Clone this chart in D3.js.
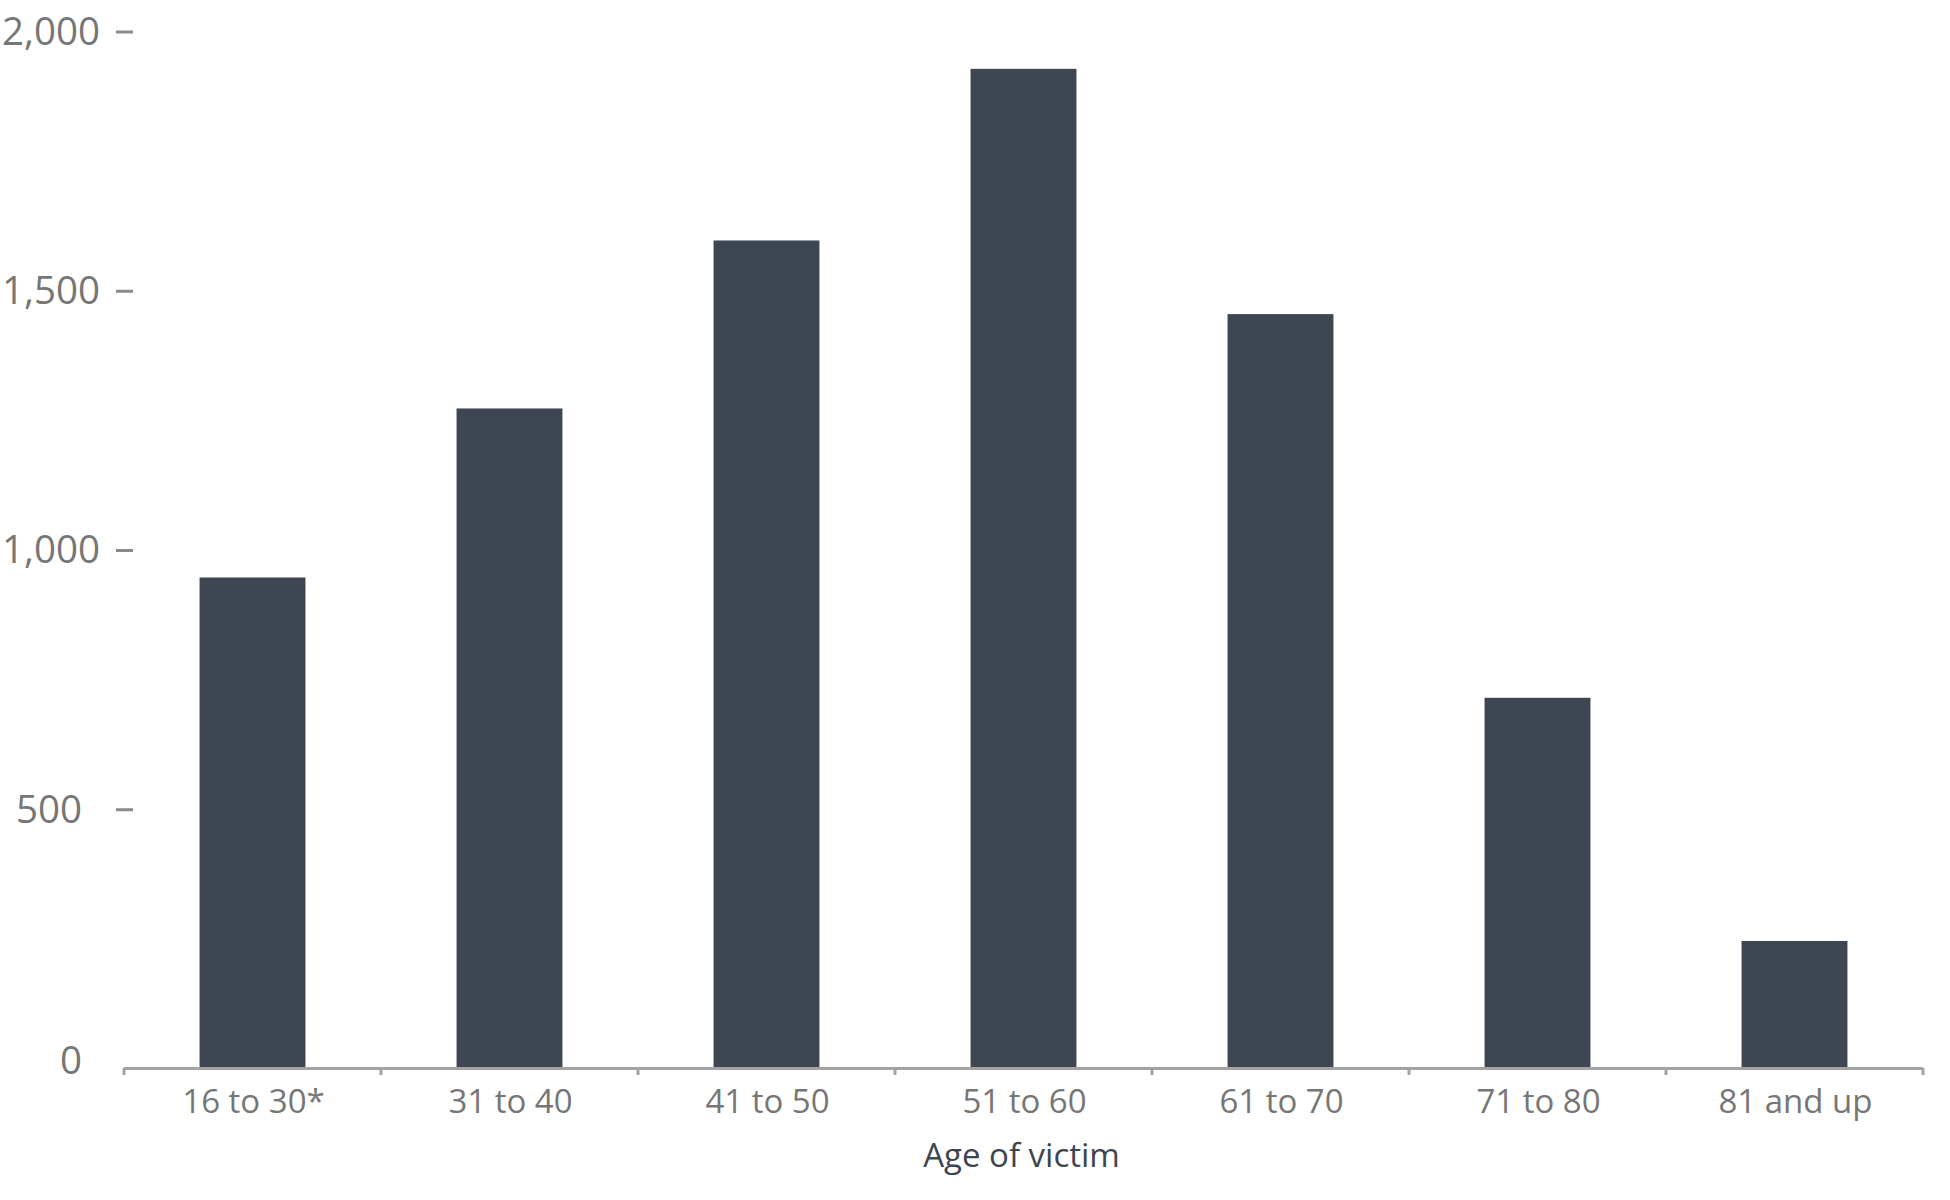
<!DOCTYPE html>
<html>
<head>
<meta charset="utf-8">
<script src="https://cdn.jsdelivr.net/npm/d3@7"></script>
<style>
  html, body { margin: 0; padding: 0; background: #ffffff; }
  svg { display: block; }
</style>
</head>
<body>
<svg id="chart" width="1950" height="1200"></svg>
<script>
const categories = ["16 to 30*", "31 to 40", "41 to 50", "51 to 60", "61 to 70", "71 to 80", "81 and up"];
const values = [946, 1272, 1596, 1927, 1454, 714, 245];
const yTicks = [0, 500, 1000, 1500, 2000];
const xTitle = "Age of victim";

(function () {
const svg = d3.select("#chart");
const plotLeft = 124, plotRight = 1923, plotTop = 31, plotBase = 1068;

const x = d3.scaleBand().domain(categories).range([plotLeft, plotRight]).paddingInner(0.588).paddingOuter(0.294);
const y = d3.scaleLinear().domain([0, 2000]).range([plotBase, plotTop]);

const barColor = "#3e4651";
const axisColor = "#a3a3a3";
const labelColor = "#767676";

// bars
svg.append("g").selectAll("rect").data(values).join("rect")
  .attr("x", (d, i) => x(categories[i]))
  .attr("y", d => y(d))
  .attr("width", x.bandwidth())
  .attr("height", d => y(0) - y(d))
  .attr("fill", barColor);

// y-axis labels and dashes
const yg = svg.append("g");
yg.selectAll("text").data(yTicks).join("text")
  .attr("x", d => d >= 1000 ? 100 : 82)
  .attr("y", d => d === 0 ? y(d) - 8 : y(d))
  .attr("dy", "0.36em")
  .attr("text-anchor", "end")
  .attr("font-family", "'Open Sans', sans-serif")
  .attr("font-size", 38.5)
  .attr("fill", labelColor)
  .text(d => d3.format(",")(d));
yg.selectAll("line").data(yTicks.filter(d => d > 0)).join("line")
  .attr("x1", 116).attr("x2", 133)
  .attr("y1", d => y(d) + 1).attr("y2", d => y(d) + 1)
  .attr("stroke", "#8a8a8a")
  .attr("stroke-width", 3);

// x axis
const xAxis = svg.append("g");
xAxis.append("line")
  .attr("x1", plotLeft).attr("x2", plotRight)
  .attr("y1", plotBase + 0.5).attr("y2", plotBase + 0.5)
  .attr("stroke", axisColor).attr("stroke-width", 3);
const boundaries = d3.range(categories.length + 1).map(i => plotLeft + i * x.step());
xAxis.selectAll("line.tick").data(boundaries).join("line")
  .attr("class", "tick")
  .attr("x1", d => d).attr("x2", d => d)
  .attr("y1", plotBase).attr("y2", plotBase + 7)
  .attr("stroke", axisColor).attr("stroke-width", 3);
xAxis.selectAll("text").data(categories).join("text")
  .attr("x", d => x(d) + x.bandwidth() / 2 + 1)
  .attr("y", 1113)
  .attr("text-anchor", "middle")
  .attr("font-family", "'Open Sans', sans-serif")
  .attr("font-size", 33)
  .attr("fill", labelColor)
  .text(d => d);

svg.append("text")
  .attr("x", (plotLeft + plotRight) / 2 - 2)
  .attr("y", 1167)
  .attr("text-anchor", "middle")
  .attr("font-family", "'Open Sans', sans-serif")
  .attr("font-size", 33)
  .attr("fill", "#3d4551")
  .text(xTitle);
})();
</script>
</body>
</html>
